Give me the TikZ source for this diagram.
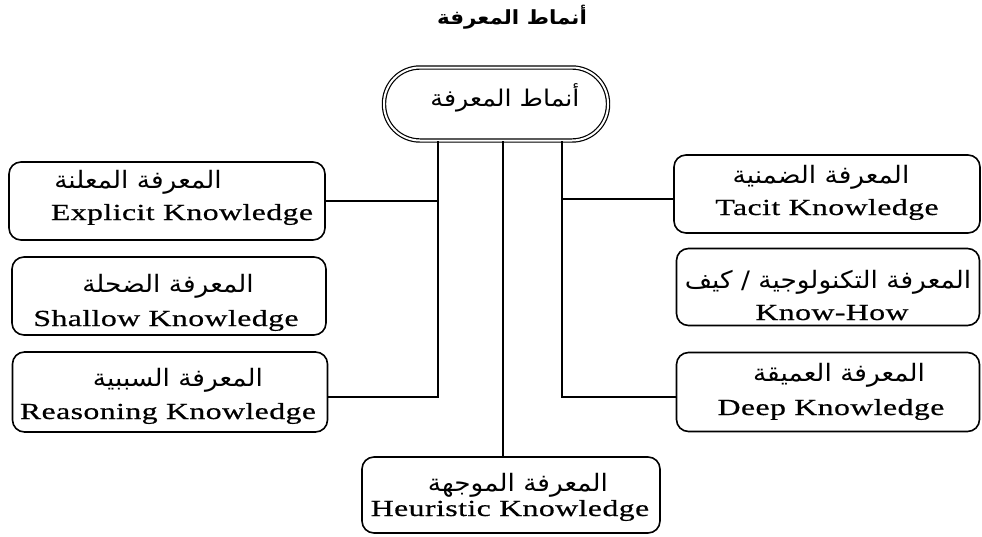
\documentclass[tikz,border=0pt]{standalone}
\usepackage{fontspec}
\setmainfont{Liberation Serif}
\newfontfamily\latinfont[FakeStretch=1.38, LetterSpace=2, FakeBold=0.6]{Liberation Serif}
\newfontfamily\arabicfont[Script=Arabic, FakeStretch=1.1]{DejaVu Sans}
\TeXXeTstate=1
\begin{document}
\begin{tikzpicture}[x=1pt,y=-1pt,
  box/.style={draw, line width=1.6pt, rounded corners=12pt, inner sep=0pt},
  pill/.style={draw, line width=1.2pt, double=white, double distance=2pt,
    rounded corners=36pt, inner sep=0pt, minimum width=224pt, minimum height=73pt},
  ar/.style={font=\arabicfont\fontsize{24}{28}\selectfont, inner sep=0pt, anchor=base},
  en/.style={font=\latinfont\fontsize{23}{27}\selectfont, inner sep=0pt, anchor=base},
  link/.style={line width=1.8pt}]
\useasboundingbox (0,0) rectangle (982,536);

% title
\node[inner sep=0pt, anchor=base, font=\arabicfont\bfseries\fontsize{19.5}{23}\selectfont]
  (title) at (512,24) {\beginR أنماط المعرفة\endR};

% root
\node[pill] (top) at (496,104) {};
\node[ar, font=\arabicfont\fontsize{23}{27}\selectfont] (topt) at (505,106) {\beginR أنماط المعرفة\endR};

% left column
\node[box, minimum width=316pt, minimum height=78pt] (ex) at (167,201) {};
\node[box, minimum width=314pt, minimum height=78pt] (sh) at (169,296) {};
\node[box, minimum width=315pt, minimum height=80pt] (re) at (170,392) {};

% right column
\node[box, minimum width=306pt, minimum height=78pt] (ta) at (827,194) {};
\node[box, minimum width=303pt, minimum height=77pt] (kh) at (828,287) {};
\node[box, minimum width=303pt, minimum height=79pt] (de) at (828,392) {};

% bottom
\node[box, minimum width=298pt, minimum height=76pt] (he) at (511,495) {};

% labels
\node[ar] (ext1) at (138,188) {\beginR المعرفة المعلنة\endR};
\node[en] (ext2) at (182,220) {Explicit Knowledge};
\node[ar] (sht1) at (168,292) {\beginR المعرفة الضحلة\endR};
\node[en] (sht2) at (166,326) {Shallow Knowledge};
\node[ar] (ret1) at (178,386) {\beginR المعرفة السببية\endR};
\node[en] (ret2) at (168,419) {Reasoning Knowledge};
\node[ar] (tat1) at (821,183) {\beginR المعرفة الضمنية\endR};
\node[en] (tat2) at (827,215) {Tacit Knowledge};
\node[ar] (kht1) at (828,288) {\beginR المعرفة التكنولوجية / كيف\endR};
\node[en] (kht2) at (832,320) {Know-How};
\node[ar] (det1) at (839,381) {\beginR المعرفة العميقة\endR};
\node[en] (det2) at (831,415) {Deep Knowledge};
\node[ar] (het1) at (518,491) {\beginR المعرفة الموجهة\endR};
\node[en] (het2) at (510,516) {Heuristic Knowledge};

% trunk positions
\coordinate (jl) at (438,0);
\coordinate (jm) at (503,0);
\coordinate (jr) at (562,0);

% connectors
\draw[link] (top.south -| jl) |- (ex.east);
\draw[link] (top.south -| jl) |- ([yshift=-5pt]re.east);
\draw[link] (top.south -| jr) |- ([yshift=-5pt]ta.west);
\draw[link] (top.south -| jr) |- ([yshift=-5pt]de.west);
\draw[link] (top.south -| jm) -- (he.north -| jm);
\end{tikzpicture}
\end{document}
